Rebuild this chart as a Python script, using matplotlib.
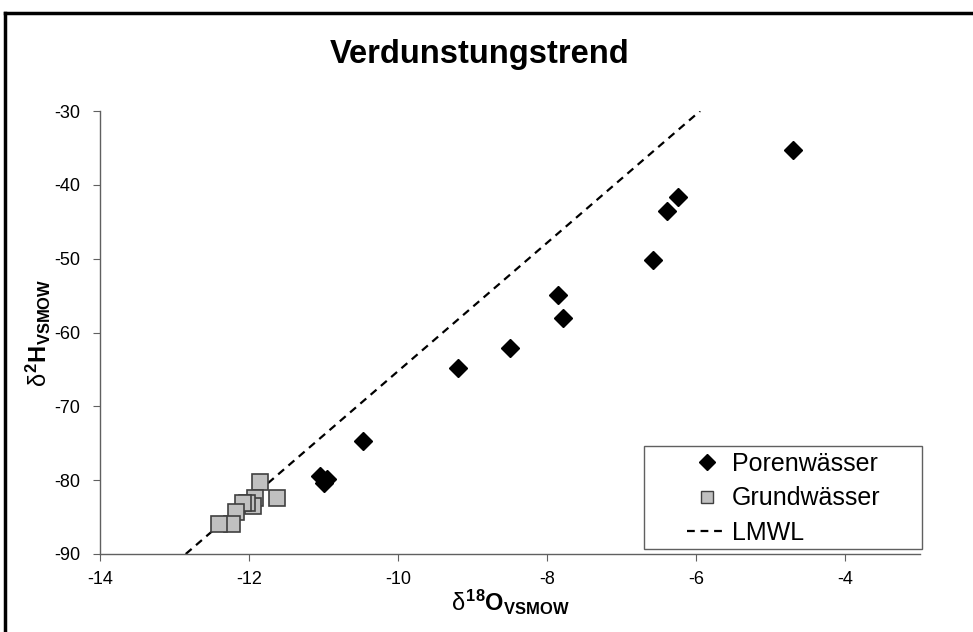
import matplotlib
matplotlib.use("Agg")
import matplotlib.pyplot as plt
from matplotlib.lines import Line2D
from matplotlib.patches import Rectangle

plt.rcParams["font.family"] = ["Liberation Sans", "DejaVu Sans"]
plt.rcParams["axes.unicode_minus"] = False
plt.rcParams["mathtext.fontset"] = "custom"
plt.rcParams["mathtext.rm"] = "Liberation Sans"
plt.rcParams["mathtext.it"] = "Liberation Sans"
plt.rcParams["mathtext.bf"] = "Liberation Sans:bold"

# pore waters (black diamonds)
poren_o18 = [-4.71, -6.24, -6.39, -6.58, -7.86, -7.79, -8.50, -9.20, -10.47,
             -11.05, -11.00, -10.95]
poren_h2 = [-35.3, -41.6, -43.5, -50.2, -54.9, -58.1, -62.1, -64.8, -74.7,
            -79.5, -80.4, -79.9]

# groundwaters (grey squares)
grund_o18 = [-11.85, -11.63, -11.92, -11.95, -12.03, -12.08, -12.18, -12.23, -12.40]
grund_h2 = [-80.2, -82.4, -82.4, -83.5, -83.1, -83.1, -84.3, -85.9, -85.9]

# local meteoric water line, end points
lmwl_o18 = [-12.85, -5.95]
lmwl_h2 = [-90.0, -30.0]

W, H = 973, 632
fig = plt.figure(figsize=(W / 100, H / 100), dpi=100)
ax = fig.add_axes([100 / W, (H - 554) / H, 820 / W, 443 / H])

dash = (0, (3.5, 2.6))
ax.plot(lmwl_o18, lmwl_h2, color="black", lw=1.6, ls=dash, zorder=2)
ax.plot(grund_o18, grund_h2, ls="none", marker="s", ms=11, mfc="#c0c0c0",
        mec="#404040", mew=1.2, zorder=3)
ax.plot(poren_o18, poren_h2, ls="none", marker="D", ms=9.5, mfc="black",
        mec="black", zorder=4)

ax.set_xlim(-14, -3)
ax.set_ylim(-90, -30)
ax.set_xticks([-14, -12, -10, -8, -6, -4])
ax.set_yticks(range(-90, -29, 10))
for s in ["top", "right"]:
    ax.spines[s].set_visible(False)
for s in ["left", "bottom"]:
    ax.spines[s].set_color("#606060")
    ax.spines[s].set_linewidth(1.0)
ax.tick_params(labelsize=13, colors="#606060", labelcolor="black", length=5)
ax.tick_params(axis="x", pad=7)
ax.tick_params(axis="y", pad=9)

ax.set_xlabel(r"$\delta^{\mathbf{18}}\mathbf{O}_{\mathbf{VSMOW}}$", fontsize=17,
              labelpad=0)
ax.set_ylabel(r"$\delta^{\mathbf{2}}\mathbf{H}_{\mathbf{VSMOW}}$", fontsize=17,
              labelpad=1)
fig.text(480 / W, 1 - 55 / H, "Verdunstungstrend", ha="center", va="center",
         fontsize=23.5, fontweight="bold")

handles = [
    Line2D([], [], ls="none", marker="D", ms=8, mfc="black", mec="black"),
    Line2D([], [], ls="none", marker="s", ms=9, mfc="#c0c0c0", mec="#404040", mew=1.0),
    Line2D([], [], color="black", lw=1.6, ls=dash),
]
ax.legend(handles, ["Porenwässer", "Grundwässer", "LMWL"], loc="upper left",
          bbox_to_anchor=((687 - 100) / 820, (554 - 452) / 443), borderaxespad=0,
          borderpad=0, fontsize=18, frameon=False, handlelength=1.6,
          handletextpad=0.2, labelspacing=0.41)
# legend box
ax.add_patch(Rectangle(((644 - 100) / 820, (554 - 549) / 443), 278 / 820, 103 / 443,
                       transform=ax.transAxes, fill=False, ec="#606060", lw=1.0,
                       clip_on=False, zorder=5))

# outer frame around the chart area
fig.add_artist(Line2D([5 / W, 5 / W], [0, 1 - 13 / H], color="black", lw=2.5,
                      transform=fig.transFigure))
fig.add_artist(Line2D([5 / W, 1], [1 - 13 / H, 1 - 13 / H], color="black",
                      lw=2.5, transform=fig.transFigure))

fig.savefig("out.png", dpi=100)
